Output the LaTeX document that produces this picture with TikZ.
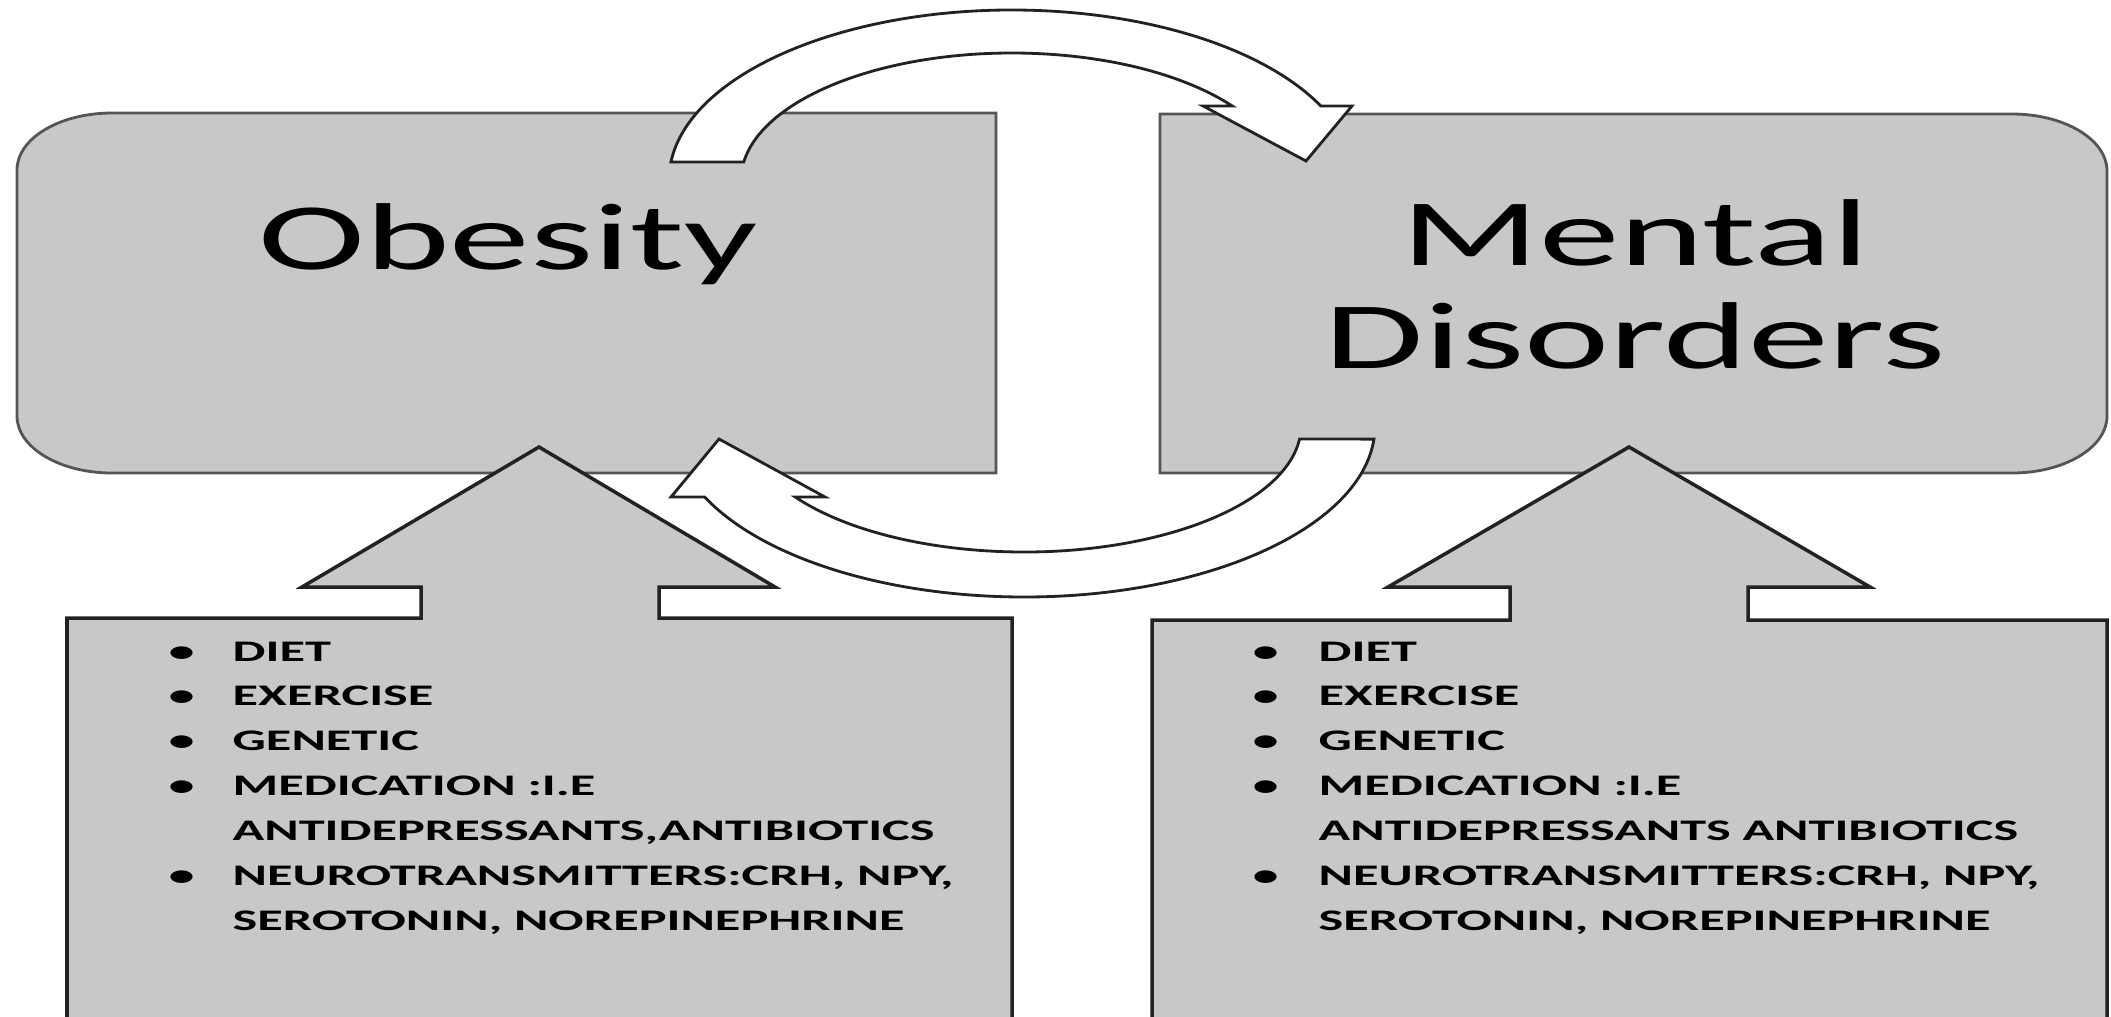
\documentclass[tikz,border=0pt]{standalone}
\usepackage{fontspec}
\setmainfont{Carlito}
\newfontfamily\widefont[FakeStretch=1.7]{Carlito}
\newfontfamily\listfont[FakeStretch=1.75]{Carlito}
\definecolor{boxgray}{HTML}{C8C8C8}
\definecolor{edgegray}{HTML}{555555}
\definecolor{darkline}{HTML}{222222}

\begin{document}
\begin{tikzpicture}[
  panel/.style={fill=boxgray, draw=edgegray, line width=0.8pt},
  uparrow/.style={fill=boxgray, draw=darkline, line width=1pt},
  looparrow/.style={fill=white, draw=darkline, line width=0.8pt},
  title/.style={font=\widefont\fontsize{27}{29.2}\selectfont, align=center, inner sep=0pt},
  factors/.style={font=\listfont\bfseries\fontsize{8.5}{12.8}\selectfont, inner sep=0pt, anchor=base west}
]
\useasboundingbox (0,0) rectangle (21.11,-10.16);
\clip (0,0) rectangle (21.11,-10.16);
\coordinate (topc) at (10.12,-1.80);
\coordinate (botc) at (10.24,-4.26);

\draw[panel] (9.96,-1.13) -- (1.12,-1.13) arc[start angle=90, end angle=180, x radius=0.95cm, y radius=0.57cm] -- (0.17,-4.16) arc[start angle=180, end angle=270, x radius=0.95cm, y radius=0.57cm] -- (9.96,-4.73) -- cycle;
\draw[panel] (11.60,-1.14) -- (20.12,-1.14) arc[start angle=90, end angle=0, x radius=0.95cm, y radius=0.57cm] -- (21.07,-4.16) arc[start angle=0, end angle=-90, x radius=0.95cm, y radius=0.57cm] -- (11.60,-4.73) -- cycle;
\node[title, anchor=base] (obesity) at (5.08,-2.69) {Obesity};
\node[title, anchor=base] (mental) at (16.35,-3.685) {Mental\\Disorders};

\draw[uparrow] (0.67,-10.40) -- (0.67,-6.18) -- (4.21,-6.18) -- (4.21,-5.87) -- (3.02,-5.87) -- (5.39,-4.47) -- (7.75,-5.87) -- (6.59,-5.87) -- (6.59,-6.18) -- (10.12,-6.18) -- (10.12,-10.40) -- cycle;
\draw[uparrow] (11.52,-10.40) -- (11.52,-6.20) -- (15.10,-6.20) -- (15.10,-5.87) -- (13.88,-5.87) -- (16.29,-4.47) -- (18.70,-5.87) -- (17.48,-5.87) -- (17.48,-6.20) -- (21.07,-6.20) -- (21.07,-10.40) -- cycle;

\draw[looparrow] ([shift={(173.9:3.43cm and 1.70cm)}]topc) arc[start angle=173.9, end angle=25.8, x radius=3.43cm, y radius=1.70cm] -- (13.52,-1.06) -- (13.06,-1.61) -- (12.03,-1.06) -- ([shift={(35.6:2.71cm and 1.27cm)}]topc) arc[start angle=35.6, end angle=171.85, x radius=2.71cm, y radius=1.27cm] -- cycle;
\draw[looparrow] ([shift={(-4.4:3.51cm and 1.71cm)}]botc) arc[start angle=-4.4, end angle=-155.5, x radius=3.51cm, y radius=1.71cm] -- (6.71,-4.97) -- (7.19,-4.39) -- (8.25,-4.97) -- ([shift={(-145.7:2.77cm and 1.26cm)}]botc) arc[start angle=-145.7, end angle=-5.9, x radius=2.77cm, y radius=1.26cm] -- cycle;

\node[factors] (obesitylist) at (1.68,-6.61) {\begin{tabular}[t]{@{}p{0.64cm}@{}l@{}}
\textbullet & DIET\\
\textbullet & EXERCISE\\
\textbullet & GENETIC\\
\textbullet & MEDICATION :I.E\\
 & ANTIDEPRESSANTS,ANTIBIOTICS\\
\textbullet & NEUROTRANSMITTERS:CRH, NPY,\\
 & SEROTONIN, NOREPINEPHRINE
\end{tabular}};
\node[factors] (mentallist) at (12.52,-6.61) {\begin{tabular}[t]{@{}p{0.66cm}@{}l@{}}
\textbullet & DIET\\
\textbullet & EXERCISE\\
\textbullet & GENETIC\\
\textbullet & MEDICATION :I.E\\
 & ANTIDEPRESSANTS ANTIBIOTICS\\
\textbullet & NEUROTRANSMITTERS:CRH, NPY,\\
 & SEROTONIN, NOREPINEPHRINE
\end{tabular}};
\end{tikzpicture}
\end{document}
